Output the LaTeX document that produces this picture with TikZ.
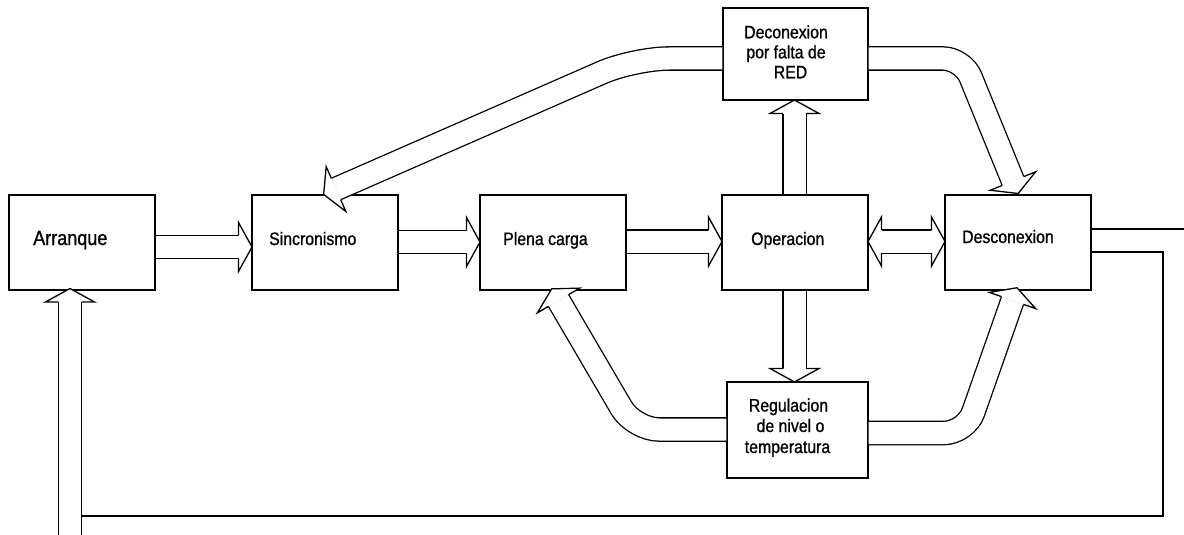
\documentclass[tikz,border=0pt]{standalone}
\usepackage{fontspec}
\setmainfont{Liberation Sans}[FakeStretch=0.88, FakeBold=1]
\usetikzlibrary{calc}

% half width of an arrow shaft, measured to the centre of its border lines
\def\halfshaft{11.65}
% head of a hollow block arrow: #1 = point where the shaft ends, #2 = direction (deg)
\newcommand{\blockhead}[2]{%
  \path[headst] ($(#1)+({#2+90}:\halfshaft)$) -- ($(#1)+({#2+90}:24.5)$)
    -- ($(#1)+(#2:13.5)$) -- ($(#1)+({#2-90}:24.5)$) -- ($(#1)+({#2-90}:\halfshaft)$);}

\tikzset{
  box/.style={draw, line width=1.3pt, inner sep=0pt, outer sep=0pt},
  shaft/.style={draw, line width=1.3pt, double=white, double distance=22pt, line cap=butt},
  headst/.style={draw, fill=white, line width=1.3pt, line join=miter},
  lbl/.style={inner sep=0pt, anchor=base, font=\fontsize{18}{21}\selectfont},
  wire/.style={draw, line width=1.3pt},
}

\begin{document}
\begin{tikzpicture}[x=1pt, y=-1pt]
\fill[white] (0,0) rectangle (1184,535);
\useasboundingbox (0,0) rectangle (1184,535);

% blocks
\node[box, minimum width=146pt, minimum height=95pt] (arr) at (82,242.5) {};
\node[box, minimum width=146pt, minimum height=95pt] (sin) at (325,242.5) {};
\node[box, minimum width=146pt, minimum height=95pt] (ple) at (553,242.5) {};
\node[box, minimum width=146pt, minimum height=95pt] (ope) at (795,242.5) {};
\node[box, minimum width=146pt, minimum height=95pt] (des) at (1018,242.5) {};
\node[box, minimum width=145pt, minimum height=92pt] (dfr) at (795.5,54) {};
\node[box, minimum width=141pt, minimum height=96pt] (reg) at (797.5,430) {};

% labels
\node[lbl, anchor=base west, font=\fontsize{20.5}{24}\selectfont] (tarr) at ($(arr.west)+(24,2.5)$) {Arranque};
\node[lbl, anchor=base west] (tsin) at ($(sin.west)+(17,2.5)$) {Sincronismo};
\node[lbl, anchor=base west] (tple) at ($(ple.west)+(23,2.5)$) {Plena carga};
\node[lbl, anchor=base west] (tope) at ($(ope.west)+(29,2.5)$) {Operacion};
\node[lbl, anchor=base west] (tdes) at ($(des.west)+(17,0.5)$) {Desconexion};
\node[lbl] (tdfr1) at ($(dfr.center)+(-9.5,-15.7)$) {Deconexion};
\node[lbl] (tdfr2) at ($(dfr.center)+(-9.5,4.3)$) {por falta de};
\node[lbl] (tdfr3) at ($(dfr.center)+(-5,24.3)$) {RED};
\node[lbl] (treg1) at ($(reg.center)+(-9,-18.5)$) {Regulacion};
\node[lbl] (treg2) at ($(reg.center)+(-7,2)$) {de nivel o};
\node[lbl] (treg3) at ($(reg.center)+(-10,23)$) {temperatura};

% shaft ends and bends
\coordinate (b1) at ($(arr.east)+(0.65,4.5)$);
\coordinate (e1) at ($(sin.west)+(-13.5,4.5)$);
\coordinate (b2) at ($(sin.east)+(0.65,-0.5)$);
\coordinate (e2) at ($(ple.west)+(-13.5,-0.5)$);
\coordinate (b3) at ($(ple.east)+(0.65,-1)$);
\coordinate (e3) at ($(ope.west)+(-13.5,-1)$);
\coordinate (e4l) at ($(ope.east)+(13.5,-1)$);
\coordinate (e4r) at ($(des.west)+(-13.5,-1)$);
\coordinate (b5) at ($(ope.north)+(-0.5,-0.65)$);
\coordinate (e5) at ($(dfr.south)+(-1,13.5)$);
\coordinate (b6) at ($(ope.south)+(-0.5,0.65)$);
\coordinate (e6) at ($(reg.north)+(-3,-13.5)$);
\coordinate (fb) at (70,535);
\coordinate (e7) at ($(arr.south)+(-12,12)$);

\coordinate (b8) at ($(dfr.west)+(-0.65,4.5)$);
\coordinate (k8) at (634,58.5);
\coordinate (e8) at ($(sin.north)+(11,-6)$);
\coordinate (b9) at ($(dfr.east)+(0.65,4.5)$);
\coordinate (k9) at (963,58.5);
\coordinate (e9) at ($(des.north)+(-5,-14)$);
\coordinate (b10) at ($(reg.west)+(-0.65,-0.5)$);
\coordinate (k10) at (634,429.5);
\coordinate (e10) at ($(ple.south)+(5.5,10.5)$);
\coordinate (b11) at ($(reg.east)+(0.65,3)$);
\coordinate (k11) at (966,433);
\coordinate (e11) at ($(des.south)+(-5.5,10.5)$);

% shafts
\draw[shaft] (b1) -- (e1);
\draw[shaft] (b2) -- (e2);
\draw[shaft] (b3) -- (e3);
\draw[shaft] (e4l) -- (e4r);
\draw[shaft] (b5) -- (e5);
\draw[shaft] (b6) -- (e6);
\draw[shaft] (fb) -- (e7);
\draw[shaft, rounded corners=35pt] (b8) -- (k8) -- (e8);
\draw[shaft, rounded corners=20pt] (b9) -- (k9) -- (e9);
\draw[shaft, rounded corners=25pt] (b10) -- (k10) -- (e10);
\draw[shaft, rounded corners=22pt] (b11) -- (k11) -- (e11);

% heads
\blockhead{e1}{0}
\blockhead{e2}{0}
\blockhead{e3}{0}
\blockhead{e4l}{180}
\blockhead{e4r}{0}
\blockhead{e5}{-90}
\blockhead{e6}{90}
\blockhead{e7}{-90}
\blockhead{e8}{156.35}
\blockhead{e9}{67.8}
\blockhead{e10}{-120.3}
\blockhead{e11}{-70.7}

% output lines of Desconexion and the return path to Arranque
\coordinate (wout) at (1184,229);
\coordinate (wc) at (1163,516);
\coordinate (wend) at (81.65,516);
\draw[wire] ($(des.east)+(0,-13.5)$) -- (wout);
\draw[wire] ($(des.east)+(0,9.5)$) -| (wc) -- (wend);
\end{tikzpicture}
\end{document}
